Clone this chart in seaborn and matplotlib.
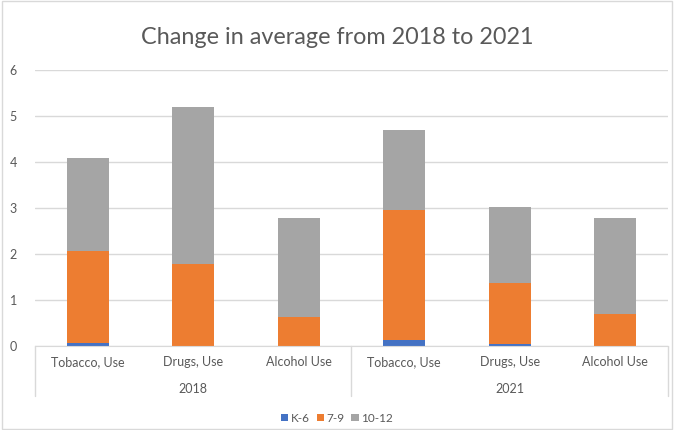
import pandas as pd
import matplotlib.pyplot as plt
import seaborn as sns
from matplotlib.patches import Rectangle, Patch
from matplotlib.lines import Line2D

# data
years = ['2018', '2018', '2018', '2021', '2021', '2021']
measures = ['Tobacco, Use', 'Drugs, Use', 'Alcohol Use',
            'Tobacco, Use', 'Drugs, Use', 'Alcohol Use']
k6 = [0.06, 0.0, 0.0, 0.13, 0.04, 0.0]
g7_9 = [2.01, 1.78, 0.63, 2.83, 1.33, 0.70]
g10_12 = [2.02, 3.42, 2.15, 1.74, 1.65, 2.08]

series = ['K-6', '7-9', '10-12']
colors = ['#4472C4', '#ED7D31', '#A5A5A5']
text_color = '#595959'

df = pd.DataFrame({
    'key': [f'{y} {m}' for y, m in zip(years, measures)],
    'K-6': k6, '7-9': g7_9, '10-12': g10_12,
})

sns.set_style('white')
plt.rcParams['font.family'] = ['Lato', 'DejaVu Sans']

fig = plt.figure(figsize=(6.74, 4.30), dpi=100)
ax = fig.add_axes([35 / 674, 84 / 430, 633 / 674, 276 / 430])

# stacked bars, one barplot call per grade band
bottom = pd.Series([0.0] * len(df))
for name, col in zip(series, colors):
    sns.barplot(data=df, x='key', y=name, color=col, width=0.4,
                bottom=bottom.values, ax=ax, saturation=1,
                edgecolor='none', linewidth=0)
    bottom = bottom + df[name]

ax.set_ylim(0, 6)
ax.set_xlim(-0.5, len(df) - 0.5)
ax.set_yticks(range(0, 7))
ax.yaxis.grid(True, color='#D9D9D9', linewidth=1)
ax.set_axisbelow(True)
for s in ['top', 'right', 'left']:
    ax.spines[s].set_visible(False)
ax.spines['bottom'].set_color('#D9D9D9')
ax.set_xlabel('')
ax.set_ylabel('')
ax.set_xticks(range(len(df)))
ax.set_xticklabels([])
ax.tick_params(axis='x', length=0)
ax.tick_params(axis='y', length=0, labelsize=9, labelcolor=text_color, pad=13)

# two-level category axis
trans = ax.get_xaxis_transform()
for i, m in enumerate(measures):
    ax.text(i, -0.057, m, transform=trans, ha='center', va='center',
            fontsize=9, color=text_color)
for j, y in enumerate(['2018', '2021']):
    ax.text(j * 3 + 1, -0.155, y, transform=trans, ha='center', va='center',
            fontsize=9, color=text_color)
for xv in [-0.5, 2.5, 5.5]:
    ax.add_line(Line2D([xv, xv], [0, -0.18], transform=trans, color='#D9D9D9',
                       linewidth=1, clip_on=False))

fig.text(0.5, 0.913, 'Change in average from 2018 to 2021', ha='center',
         va='center', fontsize=16.8, color=text_color)

handles = [Patch(facecolor=c, edgecolor='none', label=s) for s, c in zip(series, colors)]
fig.legend(handles=handles, loc='center', bbox_to_anchor=(0.5, 12 / 430),
           ncol=3, frameon=False, fontsize=8.5, handlelength=0.6, handleheight=0.6,
           handletextpad=0.2, columnspacing=0.6, labelcolor=text_color)

fig.add_artist(Rectangle((0.003, 0.003), 0.994, 0.994, transform=fig.transFigure,
                         fill=False, edgecolor='#D9D9D9', linewidth=1))

fig.savefig('out.png', dpi=100)
